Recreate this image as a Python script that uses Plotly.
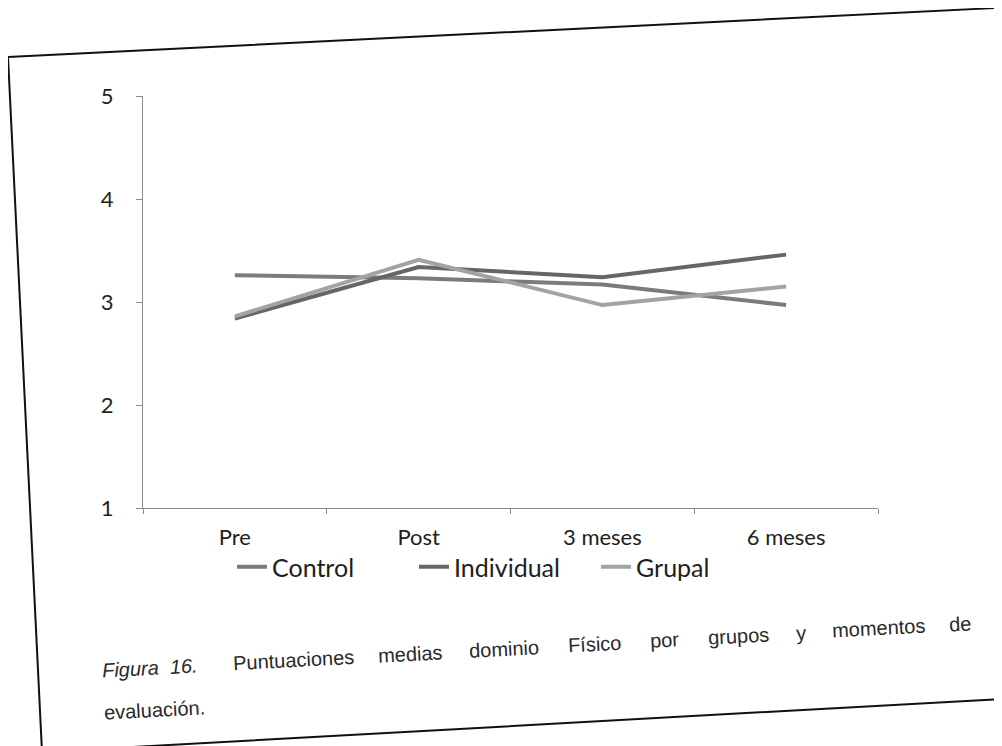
import plotly.graph_objects as go

# ---- data (scan tilt removed) ----
momentos = ["Pre", "Post", "3 meses", "6 meses"]
control = [3.26, 3.23, 3.17, 2.97]
individual = [2.84, 3.34, 3.24, 3.46]
grupal = [2.86, 3.41, 2.97, 3.15]
y_ticks = [1, 2, 3, 4, 5]

caption_lead = "Figura  16."
caption_words = ["Puntuaciones", "medias", "dominio", "Físico", "por",
                 "grupos", "y", "momentos", "de"]
caption_line2 = "evaluación."

# ---- layout geometry (page pixels; the page body adds an 8 px offset) ----
OFF = 8
FW, FH = 1002 - OFF, 746 - OFF
L, T, W, H = 143 - OFF, 96 - OFF, 735, 412
R = FW - L - W
B = FH - T - H


def px(x, y):
    """page pixel -> paper coordinates"""
    x -= OFF
    y -= OFF
    return (x - L) / W, (T + H - y) / H


fig = go.Figure()
series = [("Control", control, "#7b7b7b"),
          ("Individual", individual, "#666666"),
          ("Grupal", grupal, "#a3a3a3")]
for name, vals, col in series:
    fig.add_trace(go.Scatter(x=momentos, y=vals, mode="lines", name=name,
                             line=dict(color=col, width=4)))

tick_font = dict(family="Lato, Open Sans, sans-serif", size=22, color="#1e1e1e")

fig.update_layout(
    width=FW, height=FH,
    margin=dict(l=L, r=R, t=T, b=B, autoexpand=False),
    paper_bgcolor="white", plot_bgcolor="white",
    showlegend=True,
    legend=dict(orientation="h", x=px(232, 0)[0], y=px(0, 544)[1],
                xanchor="left", yanchor="top",
                font=dict(family="Lato, Open Sans, sans-serif", size=25, color="#1e1e1e"),
                entrywidth=137, entrywidthmode="pixels",
                bgcolor="rgba(0,0,0,0)"),
    xaxis=dict(type="category", range=[-0.5, 3.5], showgrid=False, showline=True,
               linecolor="#8a8a8a", linewidth=1, ticks="outside",
               tickcolor="#8a8a8a", ticklen=5, tickson="boundaries",
               tickfont=tick_font, ticklabelstandoff=10, zeroline=False),
    yaxis=dict(range=[1, 5], tickvals=y_ticks, showgrid=False,
               showline=True, linecolor="#8a8a8a", linewidth=1,
               ticks="outside", tickcolor="#8a8a8a", ticklen=6,
               tickfont=tick_font, ticklabelstandoff=18, zeroline=False),
)

# tilted page frame (scan)
corners = [(8, 57), (996, 8), (1001, 699), (42, 752)]
pts = [px(x, y) for x, y in corners]
path = "M " + " L ".join(f"{a},{b}" for a, b in pts) + " Z"
fig.add_shape(type="path", path=path, xref="paper", yref="paper",
              line=dict(color="#111111", width=2), fillcolor="rgba(0,0,0,0)",
              layer="below")

cap_font = dict(family="Liberation Sans, Arial, sans-serif", size=20, color="#2a2a2a")
ang = -3


def ybase(x, y0):
    return y0 - 0.054 * (x - 107)


ann = []
x0, y0 = px(150, ybase(150, 670))
ann.append(dict(text=f"<i>{caption_lead}</i>", x=x0, y=y0))
centers = [293, 410, 504, 594, 664, 738, 801, 878, 960]
for w, cx in zip(caption_words, centers):
    xx, yy = px(cx, ybase(cx, 670))
    ann.append(dict(text=w, x=xx, y=yy))
xx, yy = px(154, ybase(154, 713))
ann.append(dict(text=caption_line2, x=xx, y=yy))
for a in ann:
    fig.add_annotation(xref="paper", yref="paper", showarrow=False,
                       xanchor="center", yanchor="middle", textangle=ang,
                       font=cap_font, **a)

fig.write_html("out.html")
